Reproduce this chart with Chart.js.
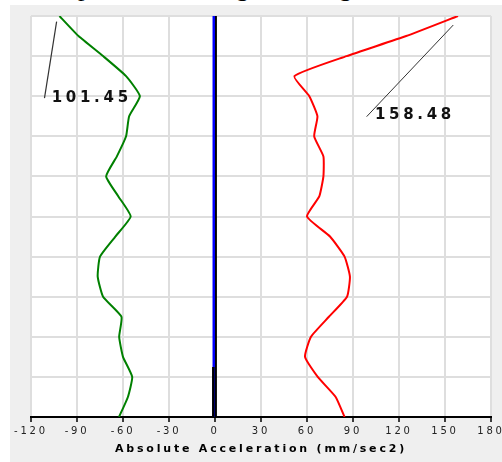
<!DOCTYPE html>
<html>
<head>
<meta charset="utf-8">
<script src="https://cdn.jsdelivr.net/npm/chart.js@4.4.1/dist/chart.umd.min.js"></script>
<style>
  html, body { margin: 0; padding: 0; background: #fff; overflow: hidden; }
  body { width: 502px; height: 462px; position: relative; }
  .caption { position: absolute; left: 39px; top: -25px; font: 26px/26px 'Liberation Serif', serif; word-spacing: 46px; white-space: nowrap; color: #000; }
  .panel { position: absolute; left: 10px; top: 5px; width: 492px; height: 457px; background: #efefef; }
  canvas { display: block; }
</style>
</head>
<body>
<div class="caption">Response along Height</div>
<div class="panel"><canvas id="chart" width="492" height="457"></canvas></div>
<script>
// levels from top (20) to base (0)
const levels = [20, 19, 18, 17, 16, 15, 14, 13, 12, 11, 10, 9, 8, 7, 6, 5, 4, 3, 2, 1, 0];
const greenAccel = [-101.45, -89, -73, -58, -49, -56, -58, -64, -71, -63, -55, -65, -75, -76.5, -73, -61, -62.5, -60, -54, -56.8, -62.6];
const redAccel = [158.48, 124.7, 85.8, 51.8, 61.5, 66.8, 64.7, 70.7, 70.7, 68, 60, 75, 84.5, 88, 86.1, 74.3, 62.6, 58.7, 67, 78.7, 84.5];

// near-zero traces
const blueLevels = [20, 0];
const blueAccel = [-0.8, -0.8];
const blackLevels = [20, 0];
const blackAccel = [0.6, 0.6];
const blackBaseLevels = [2.5, 0];
const blackBaseAccel = [-1.1, -1.1];

// leader lines for peak labels
const greenLeaderX = [-103.3, -111.2];
const greenLeaderY = [19.72, 15.9];
const redLeaderX = [155.4, 98.9];
const redLeaderY = [19.55, 14.98];
const greenLabelAt = [-106.5, 15.9];
const redLabelAt = [104.3, 15.06];

const xTicks = [-120, -90, -60, -30, 0, 30, 60, 90, 120, 150, 180];
const yGrid = [0, 2, 4, 6, 8, 10, 12, 14, 16, 18, 20];

const pts = (xs, ys) => xs.map((v, i) => ({ x: v, y: ys[i] }));

const trace = (data, color, width, order, tension = 0) => ({
  data, borderColor: color, borderWidth: width, order, tension,
  showLine: true, pointRadius: 0, fill: false
});

const plotBackground = {
  id: 'plotBackground',
  beforeDraw(chart) {
    const { ctx, chartArea: a } = chart;
    ctx.save();
    ctx.fillStyle = '#fff';
    ctx.fillRect(a.left, a.top, a.right - a.left, a.bottom - a.top);
    ctx.restore();
    ctx.letterSpacing = '2.8px';
  }
};

const peakLabels = {
  id: 'peakLabels',
  afterDatasetsDraw(chart) {
    const { ctx, scales: { x, y } } = chart;
    ctx.save();
    ctx.font = 'bold 15px "DejaVu Sans"';
    ctx.letterSpacing = '3.7px';
    ctx.fillStyle = '#111';
    ctx.textBaseline = 'middle';
    ctx.textAlign = 'left';
    ctx.fillText(Math.abs(greenAccel[0]).toFixed(2), x.getPixelForValue(greenLabelAt[0]), y.getPixelForValue(greenLabelAt[1]));
    ctx.fillText(redAccel[0].toFixed(2), x.getPixelForValue(redLabelAt[0]), y.getPixelForValue(redLabelAt[1]));
    ctx.restore();
    ctx.letterSpacing = '2.8px';
  }
};

new Chart(document.getElementById('chart'), {
  type: 'scatter',
  data: {
    datasets: [
      trace(pts(blackBaseAccel, blackBaseLevels), '#000', 2.5, 0),
      trace(pts(blueAccel, blueLevels), '#0000ff', 2.5, 1),
      trace(pts(blackAccel, blackLevels), '#000', 2, 2),
      trace(pts(greenAccel, levels), '#008000', 2, 3, 0.15),
      trace(pts(redAccel, levels), '#ff0000', 2, 3, 0.15),
      trace(pts(greenLeaderX, greenLeaderY), '#333', 1.2, 4),
      trace(pts(redLeaderX, redLeaderY), '#333', 1, 4)
    ]
  },
  options: {
    responsive: false,
    animation: false,
    layout: { padding: { left: 21, top: 11, right: 11, bottom: 0 } },
    plugins: { legend: { display: false }, tooltip: { enabled: false } },
    scales: {
      x: {
        type: 'linear',
        min: xTicks[0],
        max: xTicks[xTicks.length - 1],
        afterBuildTicks: (s) => { s.ticks = xTicks.map(v => ({ value: v })); },
        afterFit: (s) => { s.height = 45; s.paddingLeft = 0; s.paddingRight = 0; },
        grid: { color: '#dedede', lineWidth: 2, tickColor: '#000', tickLength: 5, tickWidth: 1.5 },
        border: { display: true, color: '#000', width: 2 },
        ticks: { color: '#222', font: { family: 'DejaVu Sans', size: 10 }, padding: 3, maxRotation: 0, autoSkip: false },
        title: {
          display: true,
          text: 'Absolute Acceleration (mm/sec2)',
          color: '#000',
          font: { family: 'DejaVu Sans', size: 11, weight: 'bold' },
          padding: { top: 0, bottom: 6 }
        }
      },
      y: {
        type: 'linear',
        min: yGrid[0],
        max: yGrid[yGrid.length - 1],
        afterBuildTicks: (s) => { s.ticks = yGrid.map(v => ({ value: v })); },
        afterFit: (s) => { s.width = 0; s.paddingTop = 0; s.paddingBottom = 0; },
        grid: { color: '#dedede', lineWidth: 2, drawTicks: false },
        border: { display: false },
        ticks: { display: false }
      }
    }
  },
  plugins: [plotBackground, peakLabels]
});
</script>
</body>
</html>
